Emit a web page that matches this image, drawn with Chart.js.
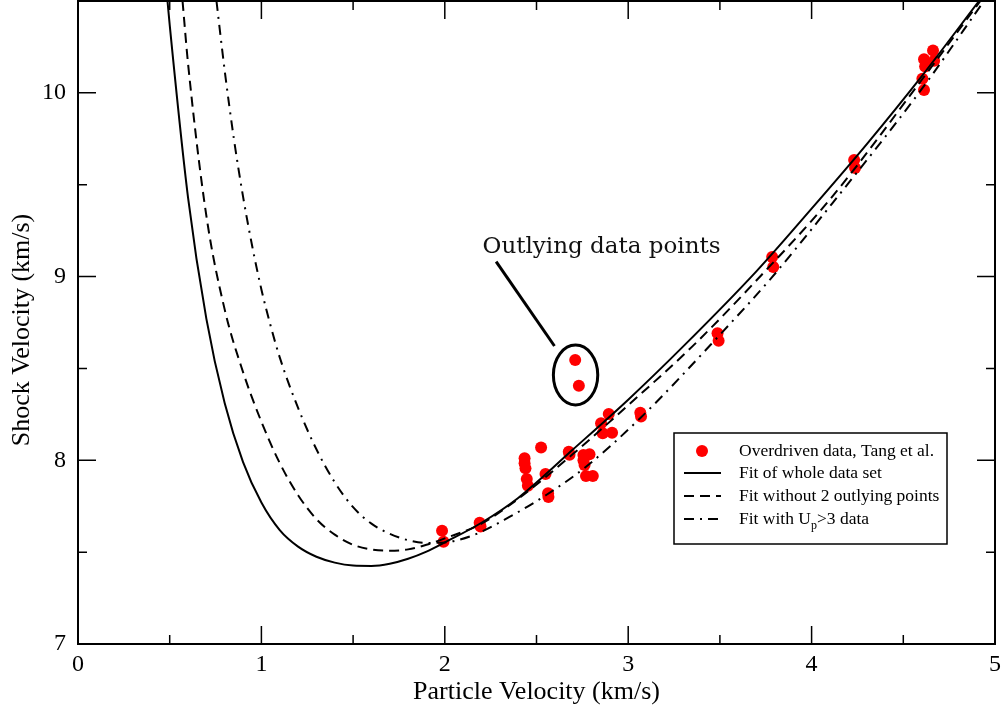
<!DOCTYPE html>
<html>
<head>
<meta charset="utf-8">
<title>Shock velocity vs particle velocity</title>
<script src="https://cdn.jsdelivr.net/npm/chart.js@4.4.0/dist/chart.umd.min.js"></script>
<style>
  body { margin: 0; background: #fff; }
</style>
</head>
<body>
<canvas id="myChart" width="1007" height="709"></canvas>
<script>
// overdriven Us-Up data (km/s)
const tangUp = [1.985, 1.993, 2.19, 2.195, 2.435, 2.435, 2.44, 2.447, 2.453, 2.525, 2.549, 2.563, 2.565,
  2.676, 2.68, 2.711, 2.731, 2.756, 2.756, 2.762, 2.789, 2.77, 2.807, 2.852, 2.861, 2.894, 2.912,
  3.066, 3.07, 3.487, 3.493, 3.785, 3.791, 4.232, 4.237, 4.662, 4.613, 4.668, 4.619, 4.604, 4.613]
const tangUs = [7.617, 7.557, 7.66, 7.64, 8.011, 7.984, 7.956, 7.898, 7.862, 8.069, 7.925, 7.82, 7.80,
  8.047, 8.03, 8.546, 8.406, 8.029, 8.00, 7.974, 8.033, 7.915, 7.915, 8.201, 8.147, 8.252, 8.15,
  8.259, 8.238, 8.691, 8.651, 9.107, 9.052, 9.635, 9.591, 10.23, 10.183, 10.175, 10.143, 10.077, 10.016]

// fit of whole data set
const fitAllUp = [0.488, 0.5, 0.6, 0.7, 0.8, 0.9, 1.0, 1.1, 1.2, 1.3, 1.4, 1.5, 1.6, 1.7, 1.8, 1.9, 2.0,
  2.2, 2.4, 2.7, 3.0, 3.3, 3.7, 4.0, 4.3, 4.6, 4.913]
const fitAllUs = [10.5, 10.37, 9.43, 8.77, 8.31, 7.99, 7.77, 7.62, 7.53, 7.475, 7.443, 7.427, 7.425, 7.437, 7.464, 7.503, 7.553,
  7.66, 7.795, 8.06, 8.33, 8.62, 9.03, 9.37, 9.72, 10.09, 10.5]

// fit without the two outliers
const fitNoOutUp = [0.570, 0.6, 0.7, 0.8, 0.9, 1.0, 1.1, 1.2, 1.3, 1.4, 1.5, 1.6, 1.7, 1.8, 1.9, 2.0,
  2.2, 2.4, 2.7, 3.0, 3.35, 3.7, 4.1, 4.6, 4.92]
const fitNoOutUs = [10.5, 10.16, 9.33, 8.82, 8.48, 8.21, 7.985, 7.81, 7.68, 7.595, 7.54, 7.515, 7.508, 7.515, 7.54, 7.575,
  7.655, 7.79, 8.035, 8.30, 8.62, 8.98, 9.42, 10.07, 10.5]

// fit with Up > 3 data only
const fitUp3Up = [0.755, 0.8, 0.85, 0.9, 0.95, 1.0, 1.05, 1.1, 1.2, 1.3, 1.4, 1.5, 1.6, 1.7, 1.8, 1.9, 2.0,
  2.15, 2.35, 2.553, 2.77, 3.061, 3.497, 3.787, 4.114, 4.6, 4.94]
const fitUp3Us = [10.5, 10.12, 9.75, 9.435, 9.165, 8.93, 8.733, 8.56, 8.285, 8.06, 7.88, 7.745, 7.655, 7.60, 7.565, 7.55, 7.553,
  7.59, 7.69, 7.811, 7.965, 8.225, 8.68, 9.0, 9.40, 10.02, 10.5]

const xTicks = [0, 1, 2, 3, 4, 5]
const yTicks = [7, 8, 9, 10]

const legendLabels = ['Overdriven data, Tang et al.', 'Fit of whole data set', 'Fit without 2 outlying points', 'Fit with U', 'p', '>3 data']
const noteText = 'Outlying data points'
const noteAt = { x: 2.206, y: 9.128 }
const ringAt = { x: 2.713, y: 8.464, rx: 0.121, ry: 0.163 }
const pointerFrom = { x: 2.28, y: 9.081 }
const pointerTo = { x: 2.598, y: 8.622 }

const toXY = (xs, ys) => xs.map((x, i) => ({ x: x, y: ys[i] }))

const serif = '"Liberation Serif", "Times New Roman", serif'

// frame, inward ticks, axis titles, legend and the outlier note
const decorations = {
  id: 'decorations',
  afterDatasetsDraw(chart) {
    const ctx = chart.ctx
    const a = chart.chartArea
    const sx = chart.scales.x
    const sy = chart.scales.y
    ctx.save()
    ctx.strokeStyle = '#000'
    ctx.lineWidth = 2
    ctx.strokeRect(a.left, a.top, a.right - a.left, a.bottom - a.top)

    ctx.lineWidth = 1.5
    ctx.beginPath()
    for (let v = 0.5; v < 5; v += 0.5) {
      const px = sx.getPixelForValue(v)
      const len = Number.isInteger(v) ? 18 : 9
      ctx.moveTo(px, a.bottom); ctx.lineTo(px, a.bottom - len)
      ctx.moveTo(px, a.top); ctx.lineTo(px, a.top + len)
    }
    for (let v = 7.5; v < 10.5; v += 0.5) {
      const py = sy.getPixelForValue(v)
      const len = Number.isInteger(v) ? 18 : 9
      ctx.moveTo(a.left, py); ctx.lineTo(a.left + len, py)
      ctx.moveTo(a.right, py); ctx.lineTo(a.right - len, py)
    }
    ctx.stroke()

    // axis titles
    ctx.fillStyle = '#000'
    ctx.font = '26px ' + serif
    ctx.textAlign = 'center'
    ctx.textBaseline = 'alphabetic'
    ctx.fillText('Particle Velocity (km/s)', (a.left + a.right) / 2, 699)
    ctx.save()
    ctx.translate(28.5, 330)
    ctx.rotate(-Math.PI / 2)
    ctx.fillText('Shock Velocity (km/s)', 0, 0)
    ctx.restore()

    // outlier note
    ctx.lineWidth = 3
    ctx.beginPath()
    ctx.moveTo(sx.getPixelForValue(pointerFrom.x), sy.getPixelForValue(pointerFrom.y))
    ctx.lineTo(sx.getPixelForValue(pointerTo.x), sy.getPixelForValue(pointerTo.y))
    ctx.stroke()
    const cx = sx.getPixelForValue(ringAt.x)
    const cy = sy.getPixelForValue(ringAt.y)
    const rx = sx.getPixelForValue(ringAt.x + ringAt.rx) - cx
    const ry = cy - sy.getPixelForValue(ringAt.y + ringAt.ry)
    ctx.beginPath()
    ctx.ellipse(cx, cy, rx, ry, 0, 0, Math.PI * 2)
    ctx.stroke()
    ctx.font = '23px "DejaVu Serif", serif'
    ctx.textAlign = 'left'
    ctx.fillStyle = '#111'
    ctx.fillText(noteText, sx.getPixelForValue(noteAt.x), sy.getPixelForValue(noteAt.y))

    // legend box
    const bx = a.right - 321, by = a.bottom - 211, bw = 273, bh = 111
    ctx.fillStyle = '#fff'
    ctx.fillRect(bx, by, bw, bh)
    ctx.strokeStyle = '#000'
    ctx.lineWidth = 1.5
    ctx.strokeRect(bx, by, bw, bh)
    const rows = [18, 40, 63, 86]
    const ds = chart.data.datasets
    ctx.font = '17.5px ' + serif
    ctx.textBaseline = 'middle'
    ctx.fillStyle = '#000'
    rows.forEach((ry0, i) => {
      const y = by + ry0
      if (i === 0) {
        ctx.fillStyle = ds[3].backgroundColor
        ctx.beginPath()
        ctx.arc(bx + 28, y, 6, 0, Math.PI * 2)
        ctx.fill()
      } else {
        const d = ds[i - 1]
        ctx.strokeStyle = d.borderColor
        ctx.lineWidth = d.borderWidth
        ctx.setLineDash(d.borderDash || [])
        ctx.beginPath()
        ctx.moveTo(bx + 10, y)
        ctx.lineTo(bx + 47, y)
        ctx.stroke()
        ctx.setLineDash([])
      }
      ctx.fillStyle = '#000'
      const tx = bx + 65
      if (i < 3) {
        ctx.fillText(legendLabels[i], tx, y)
      } else {
        ctx.fillText(legendLabels[3], tx, y)
        const w1 = ctx.measureText(legendLabels[3]).width
        ctx.font = '12px ' + serif
        ctx.fillText(legendLabels[4], tx + w1, y + 7)
        const w2 = ctx.measureText(legendLabels[4]).width
        ctx.font = '17.5px ' + serif
        ctx.fillText(legendLabels[5], tx + w1 + w2, y)
      }
    })
    ctx.restore()
  }
}

const ctx = document.querySelector('#myChart').getContext('2d')

const lineStyle = {
  showLine: true,
  borderColor: '#000',
  borderWidth: 2,
  pointRadius: 0,
  cubicInterpolationMode: 'monotone',
  order: 0
}

const myChart = new Chart(ctx, {
  type: 'scatter',
  data: {
    datasets: [
      Object.assign({ label: legendLabels[1], data: toXY(fitAllUp, fitAllUs) }, lineStyle),
      Object.assign({ label: legendLabels[2], data: toXY(fitNoOutUp, fitNoOutUs), borderDash: [10, 6] }, lineStyle),
      Object.assign({ label: 'Fit with Up>3 data', data: toXY(fitUp3Up, fitUp3Us), borderDash: [10, 6, 2, 6] }, lineStyle),
      {
        label: legendLabels[0],
        data: toXY(tangUp, tangUs),
        backgroundColor: '#ff0000',
        borderColor: '#ff0000',
        pointRadius: 6,
        pointBorderWidth: 0,
        order: 1
      }
    ]
  },
  options: {
    responsive: false,
    animation: false,
    devicePixelRatio: 1,
    layout: { autoPadding: false, padding: { top: 1, right: 11, left: 0, bottom: 0 } },
    plugins: {
      legend: { display: false },
      tooltip: { enabled: false }
    },
    scales: {
      x: {
        type: 'linear',
        min: 0,
        max: 5,
        grid: { display: false, drawTicks: false },
        border: { display: false },
        ticks: {
          stepSize: 1,
          autoSkip: false,
          maxRotation: 0,
          padding: 6,
          color: '#000',
          font: { family: serif, size: 24 },
          callback: v => xTicks.includes(v) ? String(v) : ''
        },
        afterFit: s => { s.height = 65 }
      },
      y: {
        type: 'linear',
        min: 7,
        max: 10.5,
        grid: { display: false, drawTicks: false },
        border: { display: false },
        ticks: {
          stepSize: 1,
          includeBounds: false,
          autoSkip: false,
          padding: 12,
          color: '#000',
          font: { family: serif, size: 24 },
          callback: v => yTicks.includes(v) ? String(v) : ''
        },
        afterFit: s => { s.width = 78; s.paddingTop = 0 }
      }
    }
  },
  plugins: [decorations]
})
</script>
</body>
</html>
